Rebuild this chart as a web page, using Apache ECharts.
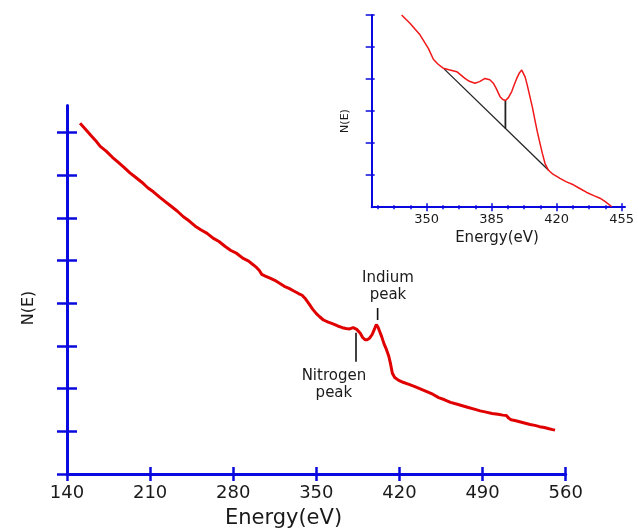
<!DOCTYPE html>
<html><head><meta charset="utf-8">
<script src="https://cdn.jsdelivr.net/npm/echarts@6/dist/echarts.min.js"></script>
<style>html,body{margin:0;padding:0;background:#fff}#c{width:638px;height:529px}</style>
</head><body><div id="c"></div>
<script>
// ---- main spectrum ----
var mainEnergy = [151,155,160,164,168,173,178,183,188,193,198,203,208,213,218,223,228,233,238,243,248,253,258,263,268,273,278,283,288,293,297,300,302,304,307,311,315,319,323,327,331,335,338,341,344,347,350,353,356,360,364,368,372,375,378,381,384,387,389,391,393,395,397,399,400.5,402,403.5,405,407,409,411,412.5,414,416,419,423,428,433,438,443,448,453,458,463,468,473,478,483,488,493,498,503,507,510,512,514,518,522,526,530,534,538,542,546,549,551];
var mainNE = [8.22,8.10,7.94,7.82,7.68,7.57,7.43,7.31,7.19,7.06,6.95,6.84,6.71,6.61,6.49,6.38,6.27,6.16,6.03,5.93,5.81,5.72,5.64,5.53,5.45,5.34,5.24,5.17,5.06,4.99,4.90,4.83,4.77,4.68,4.64,4.59,4.54,4.47,4.40,4.35,4.29,4.23,4.19,4.10,3.98,3.86,3.76,3.68,3.61,3.56,3.52,3.47,3.43,3.41,3.40,3.43,3.39,3.30,3.20,3.15,3.15,3.19,3.27,3.40,3.50,3.44,3.33,3.22,3.05,2.92,2.76,2.58,2.36,2.26,2.20,2.15,2.10,2.05,1.99,1.93,1.87,1.79,1.74,1.68,1.64,1.60,1.56,1.52,1.48,1.45,1.42,1.40,1.38,1.37,1.31,1.27,1.25,1.22,1.19,1.16,1.14,1.11,1.09,1.06,1.04,1.03];
var mainXTicks = [140,210,280,350,420,490,560];
var mainYTicks = [0,1,2,3,4,5,6,7,8];
// annotations (data coords)
var indiumLeader = [[401.6,3.89],[401.6,3.61]];
var nitrogenLeader = [[383.4,3.31],[383.4,2.63]];
var annotations = [[410.3,4.40,'Indium\npeak'],[364.8,2.09,'Nitrogen\npeak']];

// ---- inset spectrum ----
var insetEnergy = [336.5,341,346.4,350.9,353.6,356,358.9,362,366.2,370.6,373,376,378.5,381.4,384,385.9,387.5,389.5,391,392.5,394,395.8,397,398.5,400,401.2,402.2,403,404,405.6,407,408.3,409.6,411,412.3,413.7,415.5,418,421.8,425,429,432,436.2,440,443.3,446,449.6];
var insetNE = [6.0,5.74,5.38,4.96,4.62,4.47,4.34,4.29,4.23,4.02,3.93,3.87,3.92,4.02,3.98,3.87,3.70,3.45,3.36,3.33,3.42,3.61,3.80,4.02,4.20,4.28,4.22,4.07,3.85,3.45,3.10,2.72,2.35,2.0,1.68,1.37,1.16,1.03,0.90,0.80,0.70,0.60,0.46,0.36,0.28,0.18,0.02];
var insetBaseline = [[359.5,4.31],[415.5,1.16]];
var insetHeight = [[392.4,3.33],[392.4,2.46]];
var insetXLabels = [350,385,420,455];
var insetXMinor = [323.75,332.5,341.25,358.75,367.5,376.25,393.75,402.5,411.25,428.75,437.5,446.25];
var insetYTicks = [1,2,3,4,5,6];

function zip(a,b){return a.map(function(v,i){return [v,b[i]];});}

var BLUE = '#0a0ae0';
var TXT = '#1a1a1a';
var FONT = 'DejaVu Sans';

var chart = echarts.init(document.getElementById('c'), null, {renderer:'canvas'});

function hiddenX(grid, min, max, ticks, len, inside, w){
  return {type:'value', gridIndex:grid, min:min, max:max, position:'bottom',
    axisLine:{show:false}, splitLine:{show:false}, axisLabel:{show:false},
    axisTick:{show:true, inside:inside, length:len, customValues:ticks, lineStyle:{color:BLUE, width:w}}};
}
function hiddenY(grid, min, max, ticks, len, inside, w){
  return {type:'value', gridIndex:grid, min:min, max:max, position:'left',
    axisLine:{show:false}, splitLine:{show:false}, axisLabel:{show:false},
    axisTick:{show:true, inside:inside, length:len, customValues:ticks, lineStyle:{color:BLUE, width:w}}};
}

var option = {
  backgroundColor:'#fff',
  animation:false,
  grid:[
    {left:67, right:72.3, top:105.6, bottom:55, outerBoundsMode:'none'},
    {left:371.7, right:13, top:15, bottom:321.8, outerBoundsMode:'none'}
  ],
  xAxis:[
    {type:'value', gridIndex:0, min:140, max:560, position:'bottom',
      axisLine:{show:true, lineStyle:{color:BLUE, width:3}}, splitLine:{show:false},
      axisTick:{show:true, length:7, customValues:mainXTicks, lineStyle:{color:BLUE, width:2.5}},
      axisLabel:{show:true, customValues:mainXTicks, margin:10, fontSize:18, fontFamily:FONT, color:TXT}},
    hiddenX(0,140,560,mainXTicks,7,true,2.5),
    {type:'value', gridIndex:1, min:320.4, max:456.8, position:'bottom',
      axisLine:{show:true, lineStyle:{color:BLUE, width:2}}, splitLine:{show:false},
      axisTick:{show:true, length:4, customValues:insetXLabels, lineStyle:{color:BLUE, width:1.5}},
      axisLabel:{show:true, customValues:insetXLabels, margin:6, fontSize:13, fontFamily:FONT, color:TXT}},
    hiddenX(1,320.4,456.8,insetXLabels,4,true,1.5),
    hiddenX(1,320.4,456.8,insetXMinor,2,false,1.5),
    hiddenX(1,320.4,456.8,insetXMinor,2,true,1.5)
  ],
  yAxis:[
    {type:'value', gridIndex:0, min:0, max:8.636, position:'left',
      axisLine:{show:true, lineStyle:{color:BLUE, width:3}}, splitLine:{show:false},
      axisTick:{show:true, length:10, customValues:mainYTicks, lineStyle:{color:BLUE, width:2.5}},
      axisLabel:{show:false}},
    hiddenY(0,0,8.636,mainYTicks,10,true,2.5),
    {type:'value', gridIndex:1, min:0, max:6, position:'left',
      axisLine:{show:true, lineStyle:{color:BLUE, width:2}}, splitLine:{show:false},
      axisTick:{show:true, length:6, customValues:insetYTicks, lineStyle:{color:BLUE, width:1.5}},
      axisLabel:{show:false}},
    hiddenY(1,0,6,insetYTicks,3,true,1.5)
  ],
  series:[
    {type:'line', xAxisIndex:0, yAxisIndex:0, data:zip(mainEnergy,mainNE), showSymbol:false, symbol:'none',
      lineStyle:{color:'#e00000', width:3}, z:5},
    {type:'line', xAxisIndex:0, yAxisIndex:0, data:indiumLeader, symbol:'none', lineStyle:{color:'#111', width:1.6}},
    {type:'line', xAxisIndex:0, yAxisIndex:0, data:nitrogenLeader, symbol:'none', lineStyle:{color:'#111', width:1.6}},
    {type:'scatter', xAxisIndex:0, yAxisIndex:0, data:annotations, symbolSize:0, itemStyle:{opacity:1},
      label:{show:true, position:'inside', formatter:function(p){return p.data[2];},
        fontSize:15, lineHeight:17, fontFamily:FONT, color:TXT, opacity:1, align:'center', verticalAlign:'middle'}},
    {type:'line', xAxisIndex:2, yAxisIndex:2, data:zip(insetEnergy,insetNE), symbol:'none', clip:true,
      lineStyle:{color:'#f01818', width:1.5}, z:5},
    {type:'line', xAxisIndex:2, yAxisIndex:2, data:insetBaseline, symbol:'none', lineStyle:{color:'#222', width:1.3}},
    {type:'line', xAxisIndex:2, yAxisIndex:2, data:insetHeight, symbol:'none', lineStyle:{color:'#222', width:1.8}}
  ],
  graphic:[
    {type:'text', x:283.5, y:519, style:{text:'Energy(eV)', font:'21px "DejaVu Sans"', fill:TXT, align:'center', verticalAlign:'middle'}},
    {type:'text', x:28.5, y:308, rotation:Math.PI/2, style:{text:'N(E)', font:'16px "DejaVu Sans"', fill:TXT, align:'center', verticalAlign:'middle'}},
    {type:'text', x:497, y:238, style:{text:'Energy(eV)', font:'15px "DejaVu Sans"', fill:TXT, align:'center', verticalAlign:'middle'}},
    {type:'text', x:345, y:121, rotation:Math.PI/2, style:{text:'N(E)', font:'11px "DejaVu Sans"', fill:TXT, align:'center', verticalAlign:'middle'}}
  ]
};
chart.setOption(option);
</script>
</body></html>
